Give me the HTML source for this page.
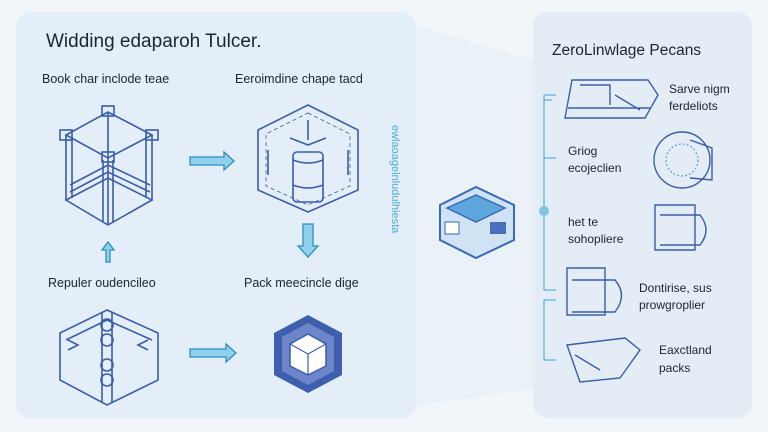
<!DOCTYPE html>
<html><head><meta charset="utf-8"><style>
body{margin:0;width:768px;height:432px;background:#f4f7fa;overflow:hidden;font-family:"Liberation Sans",sans-serif}
svg{position:absolute;left:0;top:0}
</style></head><body>
<svg width="768" height="432" viewBox="0 0 768 432">
<rect width="768" height="432" fill="#f3f6f9"/>
<polygon points="405,22 540,62 540,388 405,408" fill="#eaf1f7"/>
<rect x="16" y="12" width="400" height="406" rx="14" fill="#e3eef8"/>
<rect x="533" y="12" width="219" height="406" rx="14" fill="#e4edf6"/>
<g font-family="Liberation Sans,sans-serif" fill="#1c2430">
<text x="46" y="47" font-size="19">Widding edaparoh Tulcer.</text>
<text x="42" y="83" font-size="12.5">Book char inclode teae</text>
<text x="235" y="83" font-size="12.5">Eeroimdine chape tacd</text>
<text x="48" y="287" font-size="12.5">Repuler oudencileo</text>
<text x="244" y="287" font-size="12.5">Pack meecincle dige</text>
<text x="552" y="55" font-size="15.5">ZeroLinwlage Pecans</text>
<text x="669" y="93" font-size="12">Sarve nigm</text>
<text x="669" y="110" font-size="12">ferdeliots</text>
<text x="568" y="155" font-size="12">Griog</text>
<text x="568" y="172" font-size="12">ecojeclien</text>
<text x="568" y="226" font-size="12">het te</text>
<text x="568" y="243" font-size="12">sohopliere</text>
<text x="639" y="292" font-size="12">Dontirise, sus</text>
<text x="639" y="309" font-size="12">prowgroplier</text>
<text x="659" y="354" font-size="12">Eaxctland</text>
<text x="659" y="372" font-size="12">packs</text>
</g>
<text transform="translate(392,125) rotate(90)" font-size="11" fill="#4ab0d6" font-family="Liberation Sans,sans-serif">ewlaoagelnludulhiesta</text>
<g fill="none" stroke="#3a5ea8" stroke-width="1.6">
<!-- tower -->
<path d="M66 135 L108 112 L152 135 L108 158 Z M66 200 L108 178 L152 200 L108 225 Z M66 135 V200 M152 135 V200 M108 158 V225 M108 112 V178"/>
<path d="M72 137 V198 M146 137 V198 M103 160 V222 M113 160 V222 M70 185 L108 165 L150 185 M70 192 L108 172 L150 192"/>
<rect x="102" y="106" width="12" height="10"/><rect x="60" y="130" width="12" height="10"/><rect x="146" y="130" width="12" height="10"/><rect x="102" y="152" width="12" height="10"/>
<!-- hex top right -->
<polygon points="308,105 358,130 358,190 308,212 258,190 258,130"/>
<polygon points="308,113 350,134 350,186 308,205 266,186 266,134" stroke-width="0.8" stroke-dasharray="4 3"/>
<rect x="293" y="152" width="30" height="50" rx="4"/>
<path d="M293 160 Q308 166 323 160 M293 185 Q308 191 323 185 M308 120 V140 M290 138 L308 145 L326 138 M268 150 V175 M348 150 V175"/>
<!-- hex bottom left -->
<polygon points="107,310 158,333 158,380 107,405 60,380 60,333"/>
<path d="M102 312 V402 M112 312 V402 M66 340 L107 320 L152 340"/>
<circle cx="107" cy="325" r="6"/><circle cx="107" cy="340" r="6"/><circle cx="107" cy="365" r="6"/><circle cx="107" cy="380" r="6"/>
<path d="M68 340 l10 5 l-10 5 M148 340 l-10 5 l10 5"/>
</g>
<polygon points="308,315 342,333 342,375 308,393 274,375 274,333" fill="#3d5fae"/>
<polygon points="308,323 334,337 334,371 308,385 282,371 282,337" fill="#6d86c9"/>
<path d="M308 334 L326 344 L326 366 L308 375 L290 366 L290 344 Z" fill="#fff" stroke="#3d5fae" stroke-width="1.5"/>
<path d="M290 344 L308 354 L326 344 M308 354 V375" fill="none" stroke="#3d5fae" stroke-width="1.2"/>
<g fill="#8fd0ec" stroke="#2e8fc2" stroke-width="1.3">
<path d="M190 157 H224 V152 L234 161 L224 170 V165 H190 Z"/>
<path d="M190 349 H226 V344 L236 353 L226 362 V357 H190 Z"/>
<path d="M303 224 H313 V246 H318 L308 257 L298 246 H303 Z"/>
<path d="M106 262 V250 H102 L108 242 L114 250 H110 V262 Z"/>
</g>
<!-- center cube -->
<polygon points="476,187 514,205 514,240 476,258 440,240 440,205" fill="#cfe3f4" stroke="#3a6ab8" stroke-width="2"/>
<polygon points="476,195 505,208 476,222 447,208" fill="#5fa6dc" stroke="#3a6ab8" stroke-width="1.5"/>
<rect x="445" y="222" width="14" height="12" fill="#fff" stroke="#3a6ab8"/><rect x="490" y="222" width="16" height="12" fill="#4a6fc0"/>
<!-- right timeline -->
<g stroke="#5ab4dc" stroke-width="1.3" fill="none">
<path d="M544 95 V290 M544 300 V360 M544 95 H556 M544 158 H556 M544 290 H556 M544 360 H556 M544 300 H556 M544 100 H552"/>
</g>
<circle cx="544" cy="211" r="5" fill="#7cc4e4"/>
<g fill="none" stroke="#3a5ea8" stroke-width="1.4">
<path d="M572 80 L648 80 L658 95 L645 118 L565 118 Z M580 85 H610 V105 M615 95 L640 110 M568 108 H650"/>
<circle cx="682" cy="160" r="28"/><path d="M690 140 L712 148 L712 180 L690 178"/>
<circle cx="682" cy="160" r="16" stroke-dasharray="2 2" stroke="#6fa8d8"/>
<path d="M655 205 H695 V250 H655 Z M660 215 H700 Q712 230 700 245 H660"/>
<path d="M567 268 H605 V315 H567 Z M572 280 H615 Q628 295 615 312 H572"/>
<path d="M567 345 L625 338 L640 350 L620 378 L580 382 Z M575 355 L600 370"/>
</g>
</svg>
</body></html>
